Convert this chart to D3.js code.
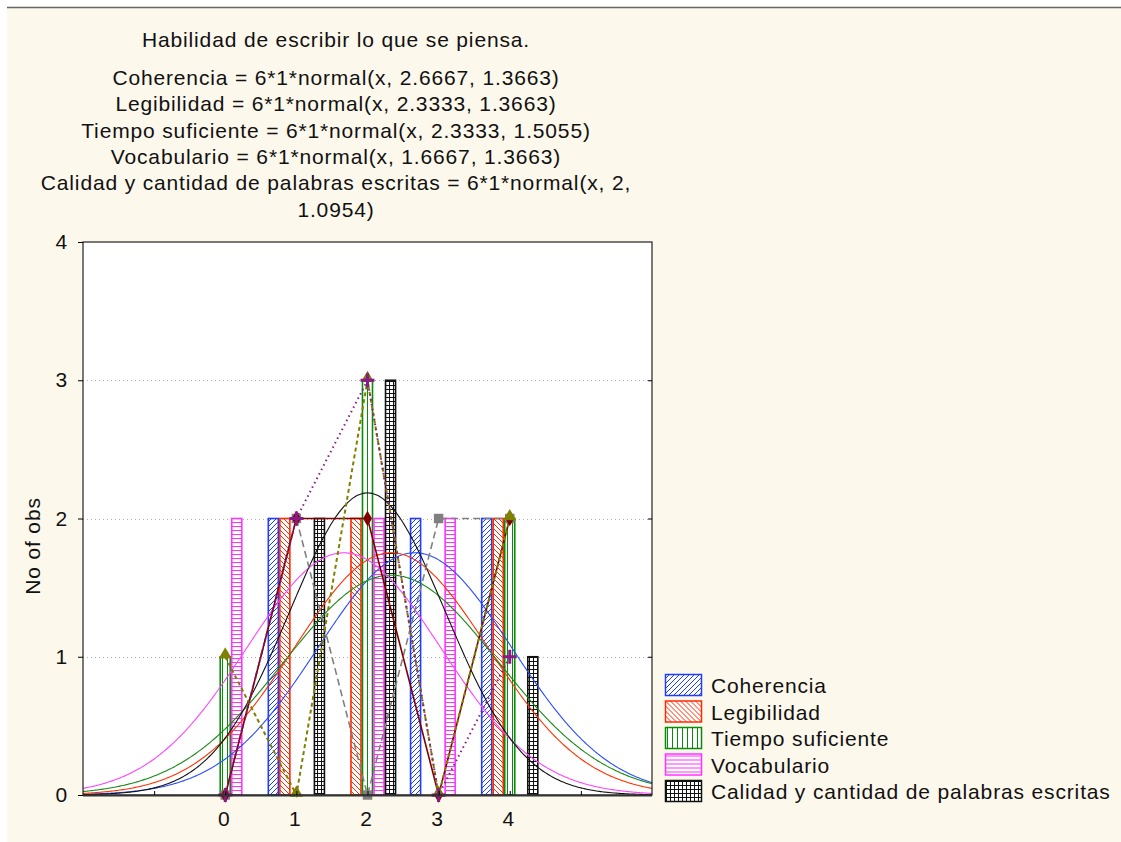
<!DOCTYPE html>
<html>
<head>
<meta charset="utf-8">
<script src="https://cdn.jsdelivr.net/npm/d3@7"></script>
<style>
  body { margin: 0; background: #ffffff; }
  svg text { font-family: "Liberation Sans", Arial, sans-serif; fill: #111; letter-spacing: 0.85px; }
</style>
</head>
<body>
<div id="chart"></div>
<script>
// values
const categories = [0, 1, 2, 3, 4];
const seriesNames = ["Coherencia", "Legibilidad", "Tiempo suficiente", "Vocabulario", "Calidad y cantidad de palabras escritas"];
const coherencia = [0, 2, 0, 2, 2];
const legibilidad = [0, 2, 2, 0, 2];
const tiempo = [1, 0, 3, 0, 2];
const vocabulario = [2, 0, 2, 2, 0];
const calidad = [0, 2, 3, 0, 1];
// fitted normal parameters printed in the title
const means = [2.6667, 2.3333, 2.3333, 1.6667, 2];
const sds = [1.3663, 1.3663, 1.5055, 1.3663, 1.0954];
const yTicks = [0, 1, 2, 3, 4];
const title = "Habilidad de escribir lo que se piensa.";
const subtitle = [
    "Coherencia = 6*1*normal(x, 2.6667, 1.3663)",
    "Legibilidad = 6*1*normal(x, 2.3333, 1.3663)",
    "Tiempo suficiente = 6*1*normal(x, 2.3333, 1.5055)",
    "Vocabulario = 6*1*normal(x, 1.6667, 1.3663)",
    "Calidad y cantidad de palabras escritas = 6*1*normal(x, 2,",
    "1.0954)"
];

const seriesValues = [coherencia, legibilidad, tiempo, vocabulario, calidad];
const colors = ["#1f3dff", "#ff2a00", "#0a8a0a", "#ff33ff", "#111111"];
const curveColors = ["#2a4dff", "#ff3300", "#168a16", "#ff44ff", "#111111"];
const FS = 21;

const W = 1121, H = 842;
const svg = d3.select("#chart").append("svg")
    .attr("width", W).attr("height", H);

// window background + frame line
svg.append("rect").attr("x", 7).attr("y", 8).attr("width", W - 7).attr("height", H - 8).attr("fill", "#fdf8ec");
svg.append("line").attr("x1", 7).attr("x2", W).attr("y1", 7.5).attr("y2", 7.5).attr("stroke", "#666").attr("stroke-width", 1.5);

const plot = {left: 83, right: 652, top: 242, bottom: 795};
const x = d3.scaleLinear().domain([-2, 6]).range([plot.left, plot.right]);
const y = d3.scaleLinear().domain([0, 4]).range([plot.bottom, plot.top]);

// fill patterns
const defs = svg.append("defs");
function pattern(id, w, h, color, d) {
    const p = defs.append("pattern").attr("id", id)
        .attr("patternUnits", "userSpaceOnUse").attr("width", w).attr("height", h);
    p.append("rect").attr("width", w).attr("height", h).attr("fill", "#fff");
    p.append("path").attr("d", d).attr("stroke", color).attr("stroke-width", 1).attr("fill", "none");
}
pattern("p0", 5, 5, colors[0], "M0,5 L5,0 M-1,1 L1,-1 M4,6 L6,4");
pattern("p1", 5, 5, colors[1], "M0,0 L5,5 M-1,4 L1,6 M4,-1 L6,1");
pattern("p2", 5, 5, colors[2], "M2.5,0 L2.5,5");
pattern("p3", 4, 4, colors[3], "M0,2.5 L4,2.5");
pattern("p4", 4, 4, colors[4], "M1.5,0 L1.5,4 M0,1.5 L4,1.5");

// plot area
svg.append("rect").attr("x", plot.left).attr("y", plot.top)
    .attr("width", plot.right - plot.left).attr("height", plot.bottom - plot.top)
    .attr("fill", "#fff");

// dotted gridlines
svg.append("g").selectAll("line").data([1, 2, 3]).join("line")
    .attr("x1", plot.left).attr("x2", plot.right)
    .attr("y1", d => Math.round(y(d)) + 0.5).attr("y2", d => Math.round(y(d)) + 0.5)
    .attr("stroke", "#b0b0b0").attr("stroke-dasharray", "1,3");

// bars
const barW = 0.162;
const clip = defs.append("clipPath").attr("id", "plotclip");
clip.append("rect").attr("x", plot.left).attr("y", plot.top)
    .attr("width", plot.right - plot.left).attr("height", plot.bottom - plot.top);

const bars = svg.append("g");
seriesValues.forEach((vals, s) => {
    bars.append("g").selectAll("rect")
        .data(categories.map((c, i) => ({c, v: vals[i]})).filter(d => d.v > 0))
        .join("rect")
        .attr("x", d => x(d.c + (s - 2.5) * barW) + 0.75)
        .attr("width", d => x(barW) - x(0) - 1.5)
        .attr("y", d => y(d.v))
        .attr("height", d => y(0) - y(d.v))
        .attr("fill", `url(#p${s})`)
        .attr("stroke", colors[s]).attr("stroke-width", 1.6);
});

// fitted normal curves, 6 obs * bin width 1
const xs = d3.range(-2, 6.001, 0.02);
const curveLine = d3.line().x(d => x(d[0])).y(d => y(d[1]));
const curves = svg.append("g").attr("clip-path", "url(#plotclip)");
means.forEach((m, s) => {
    const pts = xs.map(v => [v, 6 * Math.exp(-0.5 * ((v - m) / sds[s]) ** 2) / (sds[s] * Math.sqrt(2 * Math.PI))]);
    curves.append("path").attr("d", curveLine(pts))
        .attr("fill", "none").attr("stroke", curveColors[s]).attr("stroke-width", 1.1);
});

// frequency polygons with markers
const polyStyles = [
    {s: 0, color: "#808080", dash: "7,4", width: 1.6, marker: "square"},
    {s: 1, color: "#800000", dash: null, width: 1.6, marker: "diamond"},
    {s: 2, color: "#808000", dash: "4,3", width: 2, marker: "triangle"},
    {s: 4, color: "#8a1a8a", dash: "1.5,3.5", width: 2, marker: "plus"}
];
const polyLine = d3.line().x(d => x(d.c)).y(d => y(d.v));
const symbols = {square: d3.symbolSquare, diamond: d3.symbolDiamond, triangle: d3.symbolTriangle};
polyStyles.forEach(st => {
    const pts = categories.map((c, i) => ({c, v: seriesValues[st.s][i]}));
    svg.append("path").attr("d", polyLine(pts))
        .attr("fill", "none").attr("stroke", st.color).attr("stroke-width", st.width)
        .attr("stroke-dasharray", st.dash);
});
polyStyles.forEach(st => {
    const pts = categories.map((c, i) => ({c, v: seriesValues[st.s][i]}));
    const g = svg.append("g");
    if (st.marker === "plus") {
        g.selectAll("path").data(pts).join("path")
            .attr("d", d => `M${x(d.c) - 7},${y(d.v)} h14 M${x(d.c)},${y(d.v) - 7} v14`)
            .attr("stroke", st.color).attr("stroke-width", 3);
    } else {
        const size = {square: 90, diamond: 70, triangle: 75}[st.marker];
        g.selectAll("path").data(pts).join("path")
            .attr("transform", d => `translate(${x(d.c)},${y(d.v) - (st.marker === "triangle" ? 2 : 0)})`)
            .attr("d", d3.symbol(symbols[st.marker], size))
            .attr("fill", st.color);
    }
});

// frame
svg.append("rect").attr("x", plot.left).attr("y", plot.top)
    .attr("width", plot.right - plot.left).attr("height", plot.bottom - plot.top)
    .attr("fill", "none").attr("stroke", "#222").attr("stroke-width", 1.2);
svg.append("line").attr("x1", plot.left).attr("x2", plot.right)
    .attr("y1", plot.bottom + 0.5).attr("y2", plot.bottom + 0.5).attr("stroke", "#333").attr("stroke-width", 2);

// axes
const yAxis = d3.axisLeft(y).tickValues(yTicks).tickFormat(d3.format("d")).tickSize(5).tickPadding(10);
svg.append("g").attr("transform", `translate(${plot.left},0)`).call(yAxis)
    .call(g => g.select(".domain").remove())
    .call(g => g.selectAll("text").attr("font-size", FS).attr("font-family", "Liberation Sans, Arial"));
svg.append("g").attr("transform", `translate(${plot.right},0)`)
    .call(d3.axisLeft(y).tickValues([1, 2, 3]).tickFormat("").tickSize(4))
    .call(g => g.select(".domain").remove());

const xAxis = d3.axisTop(x).tickValues([-1, 0, 1, 2, 3, 4, 5]).tickFormat("").tickSize(4);
svg.append("g").attr("transform", `translate(0,${plot.bottom})`).call(xAxis)
    .call(g => g.select(".domain").remove());
svg.append("g").selectAll("text").data(categories).join("text")
    .attr("x", d => x(d) - 1).attr("y", 826)
    .attr("text-anchor", "middle").attr("font-size", FS)
    .text(d => d);

svg.append("text")
    .attr("transform", "translate(40,546) rotate(-90)")
    .attr("text-anchor", "middle").attr("font-size", FS)
    .text("No of obs");

// titles
svg.append("text").attr("x", 336).attr("y", 47)
    .attr("text-anchor", "middle").attr("font-size", FS).text(title);
svg.append("g").selectAll("text").data(subtitle).join("text")
    .attr("x", 336).attr("y", (d, i) => 85 + i * 26.3)
    .attr("text-anchor", "middle").attr("font-size", FS)
    .text(d => d);

// legend
const legend = svg.append("g").attr("transform", "translate(665,674)");
seriesNames.forEach((name, s) => {
    const row = legend.append("g").attr("transform", `translate(0,${s * 26.5})`);
    row.append("rect").attr("x", 0.5).attr("y", 0.5).attr("width", 36).attr("height", 21)
        .attr("fill", `url(#p${s})`).attr("stroke", colors[s]).attr("stroke-width", 1.5);
    row.append("text").attr("x", 46).attr("y", 19).attr("font-size", FS).text(name);
});
</script>
</body>
</html>
